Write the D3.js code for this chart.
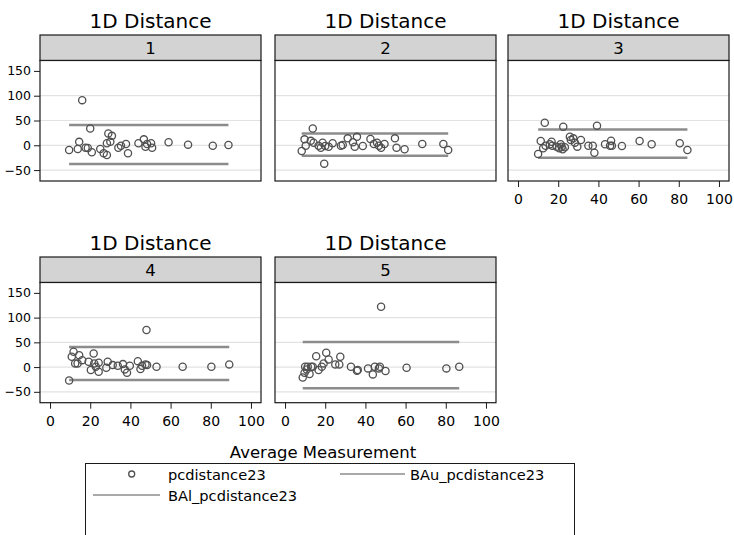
<!DOCTYPE html>
<html>
<head>
<meta charset="utf-8">
<script src="https://cdn.jsdelivr.net/npm/d3@7"></script>
<style>
  html, body { margin: 0; padding: 0; background: #fff; }
  svg { display: block; font-family: "DejaVu Sans", sans-serif; }
</style>
</head>
<body>
<svg id="chart" width="734" height="535"></svg>
<script>
// ---------- data ----------
const panels = ["1", "2", "3", "4", "5"];
const panelTitle = "1D Distance";
const xTicks = [0, 20, 40, 60, 80, 100];
const yTicks = [-50, 0, 50, 100, 150];
const gridValues = [-50, 0, 50, 100];

const avg1 = [9.5, 13.8, 14.5, 16, 17.7, 18.8, 20, 20.8, 25, 26.7, 28.3, 28.3, 29, 30, 30.8, 34, 35.3, 37.8, 38.8, 44, 46.7, 47.5, 48.3, 50.3, 50.8, 59, 68.7, 81, 88.8];
const diff1 = [-9.5, -7.5, 7, 91, -5, -5.5, 34, -14, -7.5, -16, -19.5, 4, 24, 7, 19, -5, -1, 2.6, -16, 4, 12, -3, 2.6, 4, -5, 6, 1.3, -1, 0.6];

const avg2 = [8.3, 9.7, 10.3, 12.8, 13.8, 14.2, 16.7, 17.8, 18.7, 19.5, 20, 21.7, 23.7, 27.8, 28.7, 31.2, 33.8, 34.7, 35.8, 38.7, 42.5, 44.2, 45.8, 46.7, 47.8, 49.5, 54.7, 55.5, 59.5, 68.3, 78.8, 81.2];
const diff2 = [-11.5, 12, -1, 9, 34, 5, -1, -5, 5, -37, -1.5, -3, 4, -1, 0.6, 14, 6, -3, 17, -1.5, 12.7, 2.6, 5, -1, -5, 2.6, 14, -5, -8, 2.6, 2.6, -9.5];

const avg3 = [10, 11.3, 12.5, 13.3, 13.7, 15.8, 16.7, 17, 19.2, 20.5, 21.2, 21.7, 22.2, 22.5, 23.3, 25.8, 26.3, 27.5, 28.3, 29.5, 31.3, 35, 37.2, 38, 39.3, 43.3, 45.8, 46.3, 46.7, 51.7, 60.5, 66.5, 80.5, 84.3];
const diff3 = [-17.5, 8.7, -6, 45.6, -1, 2, 7.3, -1, -3, -6, 2, -3, -8, 37.5, -4, 17.3, 10.7, 14, 5.3, -2.7, 10.7, -1, -1, -15, 39.5, 2, -1, 9.3, -1, -1.5, 8.7, 2, 4, -9.5];

const avg4 = [9.5, 10.8, 11.7, 12.5, 13.7, 14.5, 16, 19.2, 20.3, 21.7, 22, 22.8, 24.2, 24.2, 28, 28.7, 31.2, 33.7, 36.3, 37.2, 38.3, 39.7, 43.7, 45, 45.8, 47.5, 48, 48.3, 53, 66, 80.3, 89.2];
const diff4 = [-27, 21, 31, 7.4, 7.4, 24, 14, 10.7, -6, 27.6, 7.4, 0.6, 8.7, -9.5, -1.4, 10.7, 4, 2.7, 6, -4.7, -11.5, 2.7, 12, -4, 2.7, 5.4, 75, 4, 0.6, 0.6, 0.6, 5.4];

const avg5 = [8.8, 9.7, 10, 10.8, 11.3, 12.2, 13, 13.8, 15.5, 16.7, 18.3, 19.2, 20.5, 21.7, 25, 27, 27.5, 32.8, 35.8, 36.2, 41.3, 43.7, 44.7, 46.7, 47.2, 47.8, 50, 60.5, 80.3, 86.7];
const diff5 = [-21, -11.5, 0.6, -4.7, 0.6, -14, 0.6, 0.6, 22, -6, 0.6, 7.4, 29, 15.5, 5.4, 5.4, 21, 0.6, -7.4, -6, -2.7, -14.8, 0.6, -2.7, 0.6, 122, -8, -1.4, -2.7, 0.6];

const upperLimit = [41, 24, 32, 40.5, 50.6];
const lowerLimit = [-37.7, -21, -25, -26.3, -43];

const legendLabels = ["pcdistance23", "BAu_pcdistance23", "BAl_pcdistance23"];
const xTitle = "Average Measurement";

const avgs = [avg1, avg2, avg3, avg4, avg5];
const diffs = [diff1, diff2, diff3, diff4, diff5];

// ---------- layout ----------
const svg = d3.select("#chart");
const colLeft = [40, 275, 508];
const panelW = 221;
const rowStripTop = [35, 257];
const stripH = 25.5;
const rowBottom = [181, 402.7];

const markerColor = "#505050";
const lineColor = "#8c8c8c";

panels.forEach((label, i) => {
  const row = i < 3 ? 0 : 1;
  const col = i < 3 ? i : i - 3;
  const L = colLeft[col];
  const R = L + panelW;
  const stripTop = rowStripTop[row];
  const plotTop = stripTop + stripH;
  const plotBottom = rowBottom[row];

  const x = d3.scaleLinear().domain([-5, 105]).range([L, R]);
  const y = d3.scaleLinear().domain([-72, 171]).range([plotBottom, plotTop]);

  const g = svg.append("g");

  // title
  g.append("text")
    .attr("x", (L + R) / 2).attr("y", stripTop - 7)
    .attr("text-anchor", "middle")
    .attr("font-size", 20).attr("fill", "#000")
    .text(panelTitle);

  // strip
  g.append("rect")
    .attr("x", L).attr("y", stripTop)
    .attr("width", panelW).attr("height", stripH)
    .attr("fill", "#d3d3d3").attr("stroke", "#1a1a1a").attr("stroke-width", 1.2);
  g.append("text")
    .attr("x", (L + R) / 2).attr("y", stripTop + 19)
    .attr("text-anchor", "middle")
    .attr("font-size", 16.5).attr("fill", "#000")
    .text(label);

  // plot background
  g.append("rect")
    .attr("x", L).attr("y", plotTop)
    .attr("width", panelW).attr("height", plotBottom - plotTop)
    .attr("fill", "#fff");

  // gridlines
  g.selectAll(".grid").data(gridValues).enter().append("line")
    .attr("x1", L).attr("x2", R)
    .attr("y1", d => y(d)).attr("y2", d => y(d))
    .attr("stroke", "#e2e2e2").attr("stroke-width", 1.2);

  // limit lines
  const ext = d3.extent(avgs[i]);
  [upperLimit[i], lowerLimit[i]].forEach(v => {
    g.append("line")
      .attr("x1", x(ext[0])).attr("x2", x(ext[1]))
      .attr("y1", y(v)).attr("y2", y(v))
      .attr("stroke", lineColor).attr("stroke-width", 2.5);
  });

  // points
  g.selectAll(".pt").data(avgs[i].map((a, k) => [a, diffs[i][k]])).enter()
    .append("circle")
    .attr("cx", d => x(d[0])).attr("cy", d => y(d[1]))
    .attr("r", 3.6)
    .attr("fill", "none").attr("stroke", markerColor).attr("stroke-width", 1.3);

  // frame
  g.append("rect")
    .attr("x", L).attr("y", plotTop)
    .attr("width", panelW).attr("height", plotBottom - plotTop)
    .attr("fill", "none").attr("stroke", "#1a1a1a").attr("stroke-width", 1.2);

  // y axis (first column)
  if (col === 0) {
    const ya = g.append("g").attr("transform", `translate(${L},0)`)
      .call(d3.axisLeft(y).tickValues(yTicks).tickSize(6).tickPadding(3).tickFormat(d3.format("d")));
    ya.select(".domain").remove();
    ya.selectAll("line").attr("stroke", "#1a1a1a");
    ya.selectAll("text").attr("font-size", 12.5).attr("font-family", "DejaVu Sans, sans-serif").attr("fill", "#000");
  }
  // x axis (bottom of each column)
  if (i >= 2) {
    const xa = g.append("g").attr("transform", `translate(0,${plotBottom})`)
      .call(d3.axisBottom(x).tickValues(xTicks).tickSize(6).tickPadding(7).tickFormat(d3.format("d")));
    xa.select(".domain").remove();
    xa.selectAll("line").attr("stroke", "#1a1a1a");
    xa.selectAll("text").attr("font-size", 14).attr("font-family", "DejaVu Sans, sans-serif").attr("fill", "#000");
  }
});

// x axis title
svg.append("text")
  .attr("x", 323).attr("y", 458)
  .attr("text-anchor", "middle")
  .attr("font-size", 16.5).attr("fill", "#000")
  .text(xTitle);

// legend
const lg = svg.append("g");
lg.append("rect")
  .attr("x", 85.5).attr("y", 463.5)
  .attr("width", 489).attr("height", 90)
  .attr("fill", "#fff").attr("stroke", "#1a1a1a").attr("stroke-width", 1);
lg.append("circle")
  .attr("cx", 131.7).attr("cy", 474).attr("r", 3)
  .attr("fill", "none").attr("stroke", markerColor).attr("stroke-width", 1.3);
lg.append("text").attr("x", 168).attr("y", 480)
  .attr("font-size", 14.6).attr("fill", "#000").text(legendLabels[0]);
lg.append("line")
  .attr("x1", 340).attr("x2", 405).attr("y1", 474).attr("y2", 474)
  .attr("stroke", lineColor).attr("stroke-width", 1.5);
lg.append("text").attr("x", 410).attr("y", 480)
  .attr("font-size", 14.6).attr("fill", "#000").text(legendLabels[1]);
lg.append("line")
  .attr("x1", 93).attr("x2", 160).attr("y1", 495).attr("y2", 495)
  .attr("stroke", lineColor).attr("stroke-width", 1.5);
lg.append("text").attr("x", 168).attr("y", 501)
  .attr("font-size", 14.6).attr("fill", "#000").text(legendLabels[2]);
</script>
</body>
</html>
